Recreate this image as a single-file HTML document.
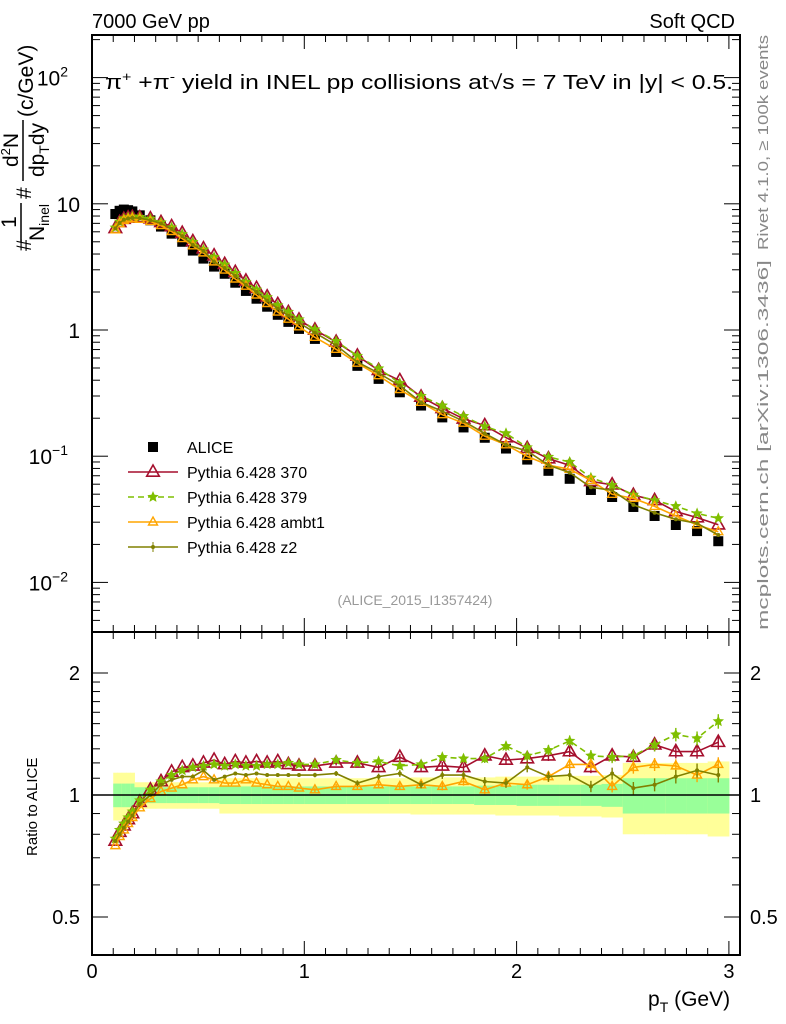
<!DOCTYPE html>
<html><head><meta charset="utf-8"><style>
html,body{margin:0;padding:0;background:#fff;}
svg{display:block;font-family:"Liberation Sans",sans-serif;}
</style></head><body>
<svg id="chart" width="786" height="1024" viewBox="0 0 786 1024" xmlns="http://www.w3.org/2000/svg">
<defs>
<clipPath id="clipMain"><rect x="92" y="35" width="648" height="597"/></clipPath>
<clipPath id="clipRatio"><rect x="92" y="632" width="648" height="323"/></clipPath>
</defs>
<g id="bands" clip-path="url(#clipRatio)"></g>
<g id="ticks"></g>
<g id="marksMain" clip-path="url(#clipMain)"></g>
<g id="marksRatio" clip-path="url(#clipRatio)"></g>
<rect x="92" y="35" width="648" height="597" fill="none" stroke="#000" stroke-width="2"/>
<rect x="92" y="632" width="648" height="323" fill="none" stroke="#000" stroke-width="2"/>
<line x1="92" x2="740" y1="795" y2="795" stroke="#000" stroke-width="1.5"/>

<text x="92" y="28" font-size="20">7000 GeV pp</text>
<text x="735" y="28" font-size="20" text-anchor="end">Soft QCD</text>
<text x="105" y="89" font-size="20" textLength="628" lengthAdjust="spacingAndGlyphs">π<tspan font-size="13" dy="-8">+</tspan><tspan dy="8"> +π</tspan><tspan font-size="13" dy="-8">-</tspan><tspan dy="8"> yield in INEL pp collisions at√s =  7 TeV in |y| &lt; 0.5.</tspan></text>
<text x="415" y="605" font-size="14" fill="#999" text-anchor="middle">(ALICE_2015_I1357424)</text>
<text transform="translate(768,250) rotate(-90)" font-size="15" fill="#888" textLength="215" lengthAdjust="spacingAndGlyphs">Rivet 4.1.0, ≥ 100k events</text>
<text transform="translate(768,630) rotate(-90)" font-size="15" fill="#888" textLength="370" lengthAdjust="spacingAndGlyphs">mcplots.cern.ch [arXiv:1306.3436]</text>

<g transform="rotate(-90)" font-size="21">
<text x="-251" y="31">#</text>
<text x="-222" y="16" text-anchor="middle">1</text>
<line x1="-242" x2="-203" y1="21" y2="21" stroke="#000" stroke-width="1.5"/>
<text x="-241" y="44">N<tspan font-size="14" dy="5">inel</tspan></text>
<text x="-199" y="31">#</text>
<text x="-150" y="18" text-anchor="middle">d<tspan font-size="13" dy="-8">2</tspan><tspan dy="8">N</tspan></text>
<line x1="-181" x2="-120" y1="23" y2="23" stroke="#000" stroke-width="1.5"/>
<text x="-150" y="44" text-anchor="middle">dp<tspan font-size="14" dy="5">T</tspan><tspan dy="-5">dy</tspan></text>
<text x="-117" y="33">(c/GeV)</text>
</g>
<text transform="translate(37,856) rotate(-90)" font-size="15">Ratio to ALICE</text>
<text x="648" y="1006" font-size="21">p<tspan font-size="14" dy="6">T</tspan><tspan dy="-6"> (GeV)</tspan></text>

<g id="legend" font-size="16"></g>
</svg>
<script>
const pT=[0.11,0.13,0.15,0.17,0.19,0.225,0.275,0.325,0.375,0.425,0.475,0.525,0.575,0.625,0.675,0.725,0.775,0.825,0.875,0.925,0.975,1.05,1.15,1.25,1.35,1.45,1.55,1.65,1.75,1.85,1.95,2.05,2.15,2.25,2.35,2.45,2.55,2.65,2.75,2.85,2.95];
const binEdges=[0.1,0.12,0.14,0.16,0.18,0.2,0.25,0.3,0.35,0.4,0.45,0.5,0.55,0.6,0.65,0.7,0.75,0.8,0.85,0.9,0.95,1.0,1.1,1.2,1.3,1.4,1.5,1.6,1.7,1.8,1.9,2.0,2.1,2.2,2.3,2.4,2.5,2.6,2.7,2.8,2.9,3.0];
const alice=[8.3,8.8,9.0,8.9,8.7,8.1,7.4,6.6,5.8,5.0,4.26,3.68,3.18,2.79,2.37,2.04,1.77,1.53,1.32,1.16,1.02,0.85,0.67,0.52,0.41,0.321,0.252,0.203,0.169,0.140,0.115,0.094,0.0766,0.0662,0.054,0.0475,0.0396,0.0336,0.0285,0.0255,0.0212];
const statErr=[0.067,0.067,0.067,0.067,0.067,0.045,0.045,0.045,0.045,0.045,0.045,0.045,0.045,0.05,0.05,0.05,0.05,0.05,0.05,0.05,0.05,0.05,0.05,0.05,0.05,0.05,0.05,0.05,0.05,0.055,0.055,0.06,0.06,0.06,0.06,0.065,0.1,0.1,0.1,0.1,0.1];
const totErr=[0.135,0.135,0.135,0.135,0.135,0.075,0.075,0.075,0.075,0.075,0.075,0.075,0.075,0.1,0.1,0.1,0.1,0.1,0.1,0.1,0.1,0.1,0.1,0.1,0.1,0.1,0.105,0.105,0.105,0.105,0.11,0.11,0.11,0.115,0.115,0.12,0.2,0.2,0.2,0.2,0.21];
const r370=[0.77,0.81,0.84,0.87,0.90,0.96,1.03,1.08,1.14,1.17,1.18,1.20,1.22,1.19,1.21,1.20,1.21,1.20,1.21,1.19,1.18,1.18,1.20,1.20,1.17,1.24,1.17,1.18,1.17,1.25,1.22,1.23,1.25,1.28,1.17,1.25,1.24,1.33,1.28,1.28,1.35];
const r379=[0.78,0.82,0.85,0.88,0.91,0.97,1.03,1.08,1.12,1.15,1.17,1.18,1.19,1.18,1.19,1.18,1.18,1.19,1.19,1.20,1.19,1.19,1.22,1.20,1.21,1.18,1.19,1.24,1.23,1.23,1.32,1.25,1.29,1.36,1.25,1.24,1.25,1.33,1.41,1.38,1.52];
const rAmbt1=[0.75,0.79,0.82,0.85,0.88,0.93,0.98,1.02,1.04,1.06,1.09,1.11,1.09,1.07,1.07,1.09,1.07,1.06,1.05,1.05,1.04,1.03,1.05,1.05,1.06,1.05,1.06,1.05,1.08,1.03,1.07,1.06,1.11,1.19,1.19,1.05,1.17,1.19,1.18,1.12,1.19];
const rZ2=[0.77,0.80,0.83,0.86,0.89,0.95,1.00,1.06,1.09,1.11,1.11,1.15,1.09,1.11,1.13,1.12,1.13,1.12,1.12,1.12,1.12,1.12,1.13,1.07,1.11,1.13,1.06,1.12,1.12,1.08,1.07,1.17,1.11,1.12,1.05,1.13,1.04,1.06,1.11,1.15,1.12];
const xTickLabels=["0","1","2","3"];
const yMainLabels=[[100,"10","2"],[10,"10",""],[1,"1",""],[0.1,"10","−1"],[0.01,"10","−2"]];
const yRatioLabels=[[2,"2"],[1,"1"],[0.5,"0.5"]];

const NS="http://www.w3.org/2000/svg";
const xS=p=>92+p*212.3;
const yM=v=>330-126.2*Math.log10(v);
const yR=r=>795-122*Math.log2(r);
function mk(tag,attrs,parent){const e=document.createElementNS(NS,tag);for(const k in attrs)e.setAttribute(k,attrs[k]);parent.appendChild(e);return e;}

const bands=document.getElementById('bands');
for(let i=0;i<pT.length;i++){
  const x0=xS(binEdges[i]),x1=xS(binEdges[i+1]);
  const yb=mk('rect',{x:x0,y:yR(1+totErr[i]),width:x1-x0+0.5,height:yR(1-totErr[i])-yR(1+totErr[i]),fill:'#ffff99'},bands);
  
  
  const gb=mk('rect',{x:x0,y:yR(1+statErr[i]),width:x1-x0+0.5,height:yR(1-statErr[i])-yR(1+statErr[i]),fill:'#99ff99'},bands);
  
  
}

const tk=document.getElementById('ticks');
function tline(x1,y1,x2,y2,w){mk('line',{x1:x1,y1:y1,x2:x2,y2:y2,stroke:'#000','stroke-width':w||1},tk);}
for(let k=0;k<=30;k++){
  const p=k/10, x=xS(p), maj=(k%10===0), L=maj?14:7;
  tline(x,35,x,35+L); tline(x,632,x,632-L); tline(x,632,x,632+L); tline(x,955,x,955-L);
}
xTickLabels.forEach((t,i)=>{const e=mk('text',{x:xS(i),y:978,'font-size':20,'text-anchor':'middle'},tk);e.textContent=t;

});
for(let d=-3;d<=2;d++){
  for(let m=1;m<10;m++){
    const v=m*Math.pow(10,d), y=yM(v);
    if(y<35||y>632)continue;
    const L=m===1?16:8;
    tline(92,y,92+L,y); tline(740,y,740-L,y);
  }
}
yMainLabels.forEach(([v,b,s])=>{
  const e=mk('text',{x:s?68:80,y:yM(v)+8,'font-size':21,'text-anchor':'end'},tk);
  
  
  e.textContent=b;
  if(s){const t=mk('tspan',{'font-size':14,dy:-9},e);t.textContent=s;}
});
[0.5,0.6,0.7,0.8,0.9,1,1.1,1.2,1.3,1.4,1.5,1.6,1.7,1.8,1.9,2].forEach(r=>{
  const y=yR(r), maj=(r===1||r===2||r===0.5), L=maj?16:8;
  tline(92,y,92+L,y); tline(740,y,740-L,y);
});
yRatioLabels.forEach(([r,t])=>{
  const a=mk('text',{x:80,y:yR(r)+7,'font-size':20,'text-anchor':'end'},tk);a.textContent=t;
  
  
  const b=mk('text',{x:750,y:yR(r)+7,'font-size':20},tk);b.textContent=t;
  
  
});

function tri(g,x,y,s,col,w){mk('path',{d:'M'+x+','+(y-s)+' L'+(x+s*0.9)+','+(y+s*0.6)+' L'+(x-s*0.9)+','+(y+s*0.6)+' Z',fill:'none',stroke:col,'stroke-width':w},g);}
function star(g,x,y,s,col){let d='';for(let i=0;i<10;i++){const a=-Math.PI/2+i*Math.PI/5,r=i%2?s*0.45:s;d+=(i?'L':'M')+(x+r*Math.cos(a)).toFixed(1)+','+(y+r*Math.sin(a)).toFixed(1);}mk('path',{d:d+'Z',fill:col},g);}
const series=[
 {name:'pythia-370',r:r370,col:'#a50f2d',dash:'',mark:'tri',s:7,w:1.6},
 {name:'pythia-379',r:r379,col:'#7fbf00',dash:'6,4',mark:'star',s:6},
 {name:'pythia-ambt1',r:rAmbt1,col:'#ffa500',dash:'',mark:'tri',s:5,w:1.4},
 {name:'pythia-z2',r:rZ2,col:'#808000',dash:'',mark:'dot',s:2}
];
const gM=document.getElementById('marksMain'), gR=document.getElementById('marksRatio');
alice.forEach((v,i)=>{const e=mk('rect',{x:xS(pT[i])-5,y:yM(v)-5,width:10,height:10,fill:'#000'},gM);

});
series.forEach(S=>{
  ['main','ratio'].forEach(which=>{
    const g=mk('g',{},which==='main'?gM:gR);
    
    
    const ys=S.r.map((r,i)=>which==='main'?yM(alice[i]*r):yR(r));
    const pts=ys.map((y,i)=>xS(pT[i]).toFixed(1)+','+y.toFixed(1)).join(' ');
    const pl={points:pts,fill:'none',stroke:S.col,'stroke-width':1.6};
    if(S.dash)pl['stroke-dasharray']=S.dash;
    mk('polyline',pl,g);
    ys.forEach((y,i)=>{const x=xS(pT[i]);
      if(which==='ratio'&&pT[i]>1){const er=0.012+0.03*(pT[i]-1)/2;mk('line',{x1:x,x2:x,y1:yR(S.r[i]*(1+er)),y2:yR(S.r[i]*(1-er)),stroke:S.col,'stroke-width':1.4},g);}
      if(S.mark==='tri')tri(g,x,y,S.s,S.col,S.w);else if(S.mark==='star')star(g,x,y,S.s,S.col);else mk('circle',{cx:x,cy:y,r:S.s,fill:S.col},g);
    });
  });
});
const lg=document.getElementById('legend');
const legItems=[['ALICE',null],['Pythia 6.428 370',series[0]],['Pythia 6.428 379',series[1]],['Pythia 6.428 ambt1',series[2]],['Pythia 6.428 z2',series[3]]];
legItems.forEach(([t,S],i)=>{
  const y=447+i*25;
  const g=mk('g',{},lg);
  
  
  if(!S){mk('rect',{x:148,y:y-5,width:10,height:10,fill:'#000'},g);}
  else{const la={x1:128,x2:178,y1:y,y2:y,stroke:S.col,'stroke-width':1.6};if(S.dash)la['stroke-dasharray']=S.dash;mk('line',la,g);
    if(S.mark==='tri')tri(g,153,y,S.s,S.col,S.w);else if(S.mark==='star')star(g,153,y,S.s,S.col);else{mk('circle',{cx:153,cy:y,r:2,fill:S.col},g);mk('line',{x1:153,x2:153,y1:y-5,y2:y+5,stroke:S.col},g);}}
  const tx=mk('text',{x:187,y:y+6},g);tx.textContent=t;
});
</script>
</body></html>
